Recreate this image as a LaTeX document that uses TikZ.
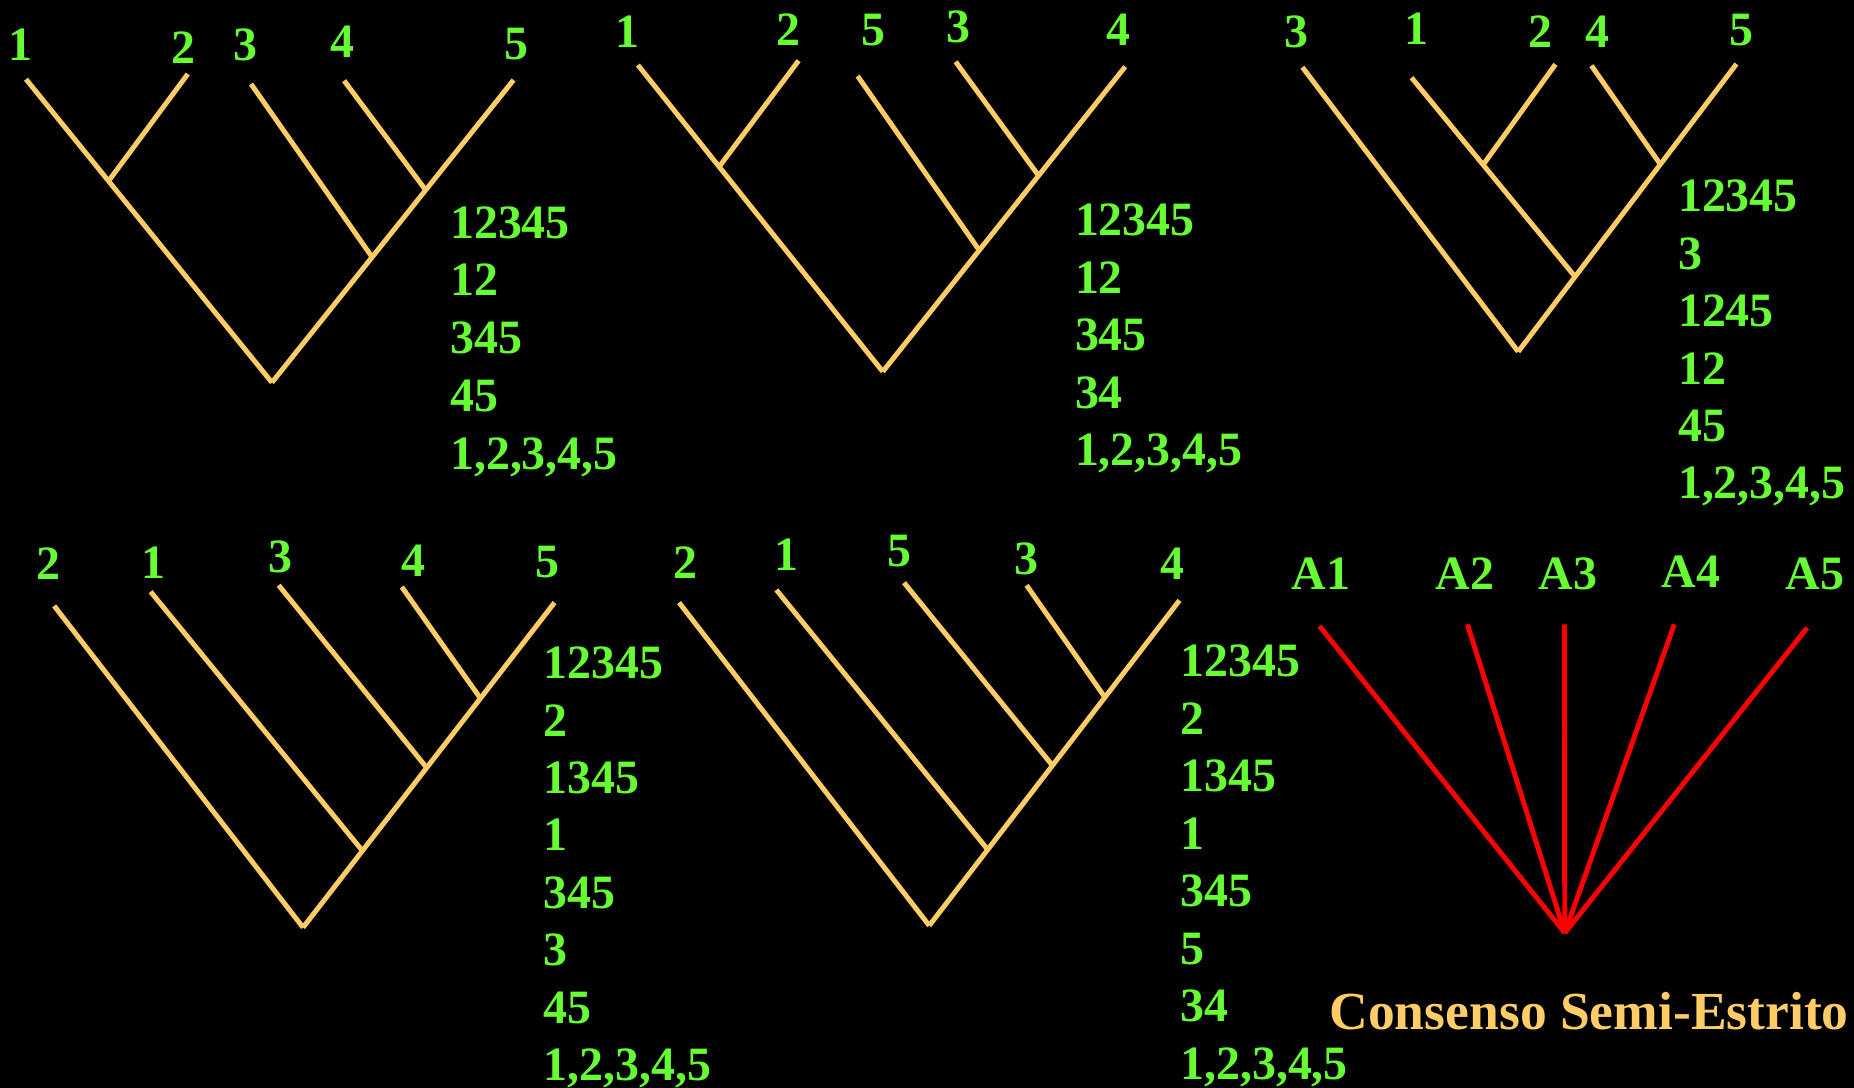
\documentclass[tikz,border=0pt]{standalone}
\usepackage{fontspec}
\setmainfont{Liberation Serif}
\definecolor{branch}{RGB}{255,204,102}
\definecolor{lab}{RGB}{102,255,51}
\definecolor{cons}{RGB}{255,0,0}
\tikzset{
  br/.style={draw=branch, line width=4.2pt},
  cs/.style={draw=cons, line width=4.2pt},
  tip/.style={text=lab, font=\fontsize{40.5}{41}\selectfont\bfseries, inner sep=0pt},
  lst/.style={tip, anchor=base west},
  ttl/.style={text=branch, font=\fontsize{45.3}{47}\selectfont\bfseries, inner sep=0pt}
}
\begin{document}
\begin{tikzpicture}[x=1pt,y=-1pt]
\path[use as bounding box, fill=black] (0,0) rectangle (1568,920);

% ---------- Tree 1 ----------
\node[tip] (t1a) at (17,38) {1};
\node[tip] (t1b) at (155,40) {2};
\node[tip] (t1c) at (208,38) {3};
\node[tip] (t1d) at (290,35) {4};
\node[tip] (t1e) at (437,37) {5};
\coordinate (a1) at (22,67);
\coordinate (a2) at (158.8,62.6);
\coordinate (a3) at (212.3,71);
\coordinate (a4) at (291,68.2);
\coordinate (a5) at (434.3,67.7);
\coordinate (ar) at (230,323.5);
\coordinate (a12) at (91.9,153);
\coordinate (a345) at (314.6,217.3);
\coordinate (a45) at (359.9,160.6);
\draw[br] (a1) -- (ar);
\draw[br] (ar) -- (a5);
\draw[br] (a2) -- (a12);
\draw[br] (a3) -- (a345);
\draw[br] (a4) -- (a45);
\foreach \t [count=\i] in {12345,12,345,45,{1,2,3,4,5}}
  \node[lst] (l1\i) at (380.5,{201.5+(\i-1)*48.8}) {\t};

% ---------- Tree 2 ----------
\node[tip] (t2a) at (530.6,27) {1};
\node[tip] (t2b) at (667,25.4) {2};
\node[tip] (t2c) at (738.8,25.4) {5};
\node[tip] (t2d) at (811,23) {3};
\node[tip] (t2e) at (946,25) {4};
\coordinate (b1) at (539.5,55);
\coordinate (b2) at (675.4,51.3);
\coordinate (b5) at (725.3,64.3);
\coordinate (b3) at (808.2,52.2);
\coordinate (b4) at (951.6,56.4);
\coordinate (br) at (746.6,314.3);
\coordinate (b12) at (608.2,141);
\coordinate (b5n) at (828.2,211.7);
\coordinate (b34) at (878.4,148.6);
\draw[br] (b1) -- (br);
\draw[br] (br) -- (b4);
\draw[br] (b2) -- (b12);
\draw[br] (b5) -- (b5n);
\draw[br] (b3) -- (b34);
\foreach \t [count=\i] in {12345,12,345,34,{1,2,3,4,5}}
  \node[lst] (l2\i) at (909,{199.2+(\i-1)*48.65}) {\t};

% ---------- Tree 3 ----------
\node[tip] (t3a) at (1096.7,27) {3};
\node[tip] (t3b) at (1197.6,24) {1};
\node[tip] (t3c) at (1302.7,27) {2};
\node[tip] (t3d) at (1350.7,27) {4};
\node[tip] (t3e) at (1473,25.4) {5};
\coordinate (c3) at (1101.5,56.9);
\coordinate (c1) at (1193.8,65.7);
\coordinate (c2) at (1315.5,54.4);
\coordinate (c4) at (1345.9,55.5);
\coordinate (c5) at (1468.6,54.1);
\coordinate (cr) at (1284,297.4);
\coordinate (c1245) at (1332.1,234);
\coordinate (c12) at (1254.3,139.4);
\coordinate (c45) at (1404.2,139);
\draw[br] (c3) -- (cr);
\draw[br] (cr) -- (c5);
\draw[br] (c1) -- (c1245);
\draw[br] (c2) -- (c12);
\draw[br] (c4) -- (c45);
\foreach \t [count=\i] in {12345,3,1245,12,45,{1,2,3,4,5}}
  \node[lst] (l3\i) at (1419,{179+(\i-1)*48.6}) {\t};

% ---------- Tree 4 ----------
\node[tip] (t4a) at (40.8,477) {2};
\node[tip] (t4b) at (130,476) {1};
\node[tip] (t4c) at (236.8,471) {3};
\node[tip] (t4d) at (349.5,474) {4};
\node[tip] (t4e) at (462.9,475) {5};
\coordinate (d2) at (45.8,512.4);
\coordinate (d1) at (127.4,500.4);
\coordinate (d3) at (235.7,495);
\coordinate (d4) at (339.8,496.4);
\coordinate (d5) at (469,509.6);
\coordinate (dr) at (256.3,784.4);
\coordinate (d1n) at (306.5,719.5);
\coordinate (d3n) at (360.9,649.3);
\coordinate (d45) at (406.3,590.6);
\draw[br] (d2) -- (dr);
\draw[br] (dr) -- (d5);
\draw[br] (d1) -- (d1n);
\draw[br] (d3) -- (d3n);
\draw[br] (d4) -- (d45);
\foreach \t [count=\i] in {12345,2,1345,1,345,3,45,{1,2,3,4,5}}
  \node[lst] (l4\i) at (459.5,{573.9+(\i-1)*48.6}) {\t};

% ---------- Tree 5 ----------
\node[tip] (t5a) at (579.3,476) {2};
\node[tip] (t5b) at (665.5,469) {1};
\node[tip] (t5c) at (760.7,466) {5};
\node[tip] (t5d) at (868.2,473) {3};
\node[tip] (t5e) at (991.7,477) {4};
\coordinate (e2) at (574.3,509.6);
\coordinate (e1) at (656.6,498.9);
\coordinate (e5) at (764.6,492.8);
\coordinate (e3) at (868.2,495);
\coordinate (e4) at (997.5,507.8);
\coordinate (er) at (785.9,782.8);
\coordinate (e1n) at (835.4,718.6);
\coordinate (e5n) at (890.1,647.4);
\coordinate (e34) at (934.5,589.8);
\draw[br] (e2) -- (er);
\draw[br] (er) -- (e4);
\draw[br] (e1) -- (e1n);
\draw[br] (e5) -- (e5n);
\draw[br] (e3) -- (e34);
\foreach \t [count=\i] in {12345,2,1345,1,345,5,34,{1,2,3,4,5}}
  \node[lst] (l5\i) at (998,{572.5+(\i-1)*48.6}) {\t};

% ---------- Consensus ----------
\node[tip] (fA1) at (1117,485) {A1};
\node[tip] (fA2) at (1239,485) {A2};
\node[tip] (fA3) at (1326,485) {A3};
\node[tip] (fA4) at (1430,483.5) {A4};
\node[tip] (fA5) at (1535,485.5) {A5};
\coordinate (f1) at (1116,529.5);
\coordinate (f2) at (1241,528);
\coordinate (f3) at (1323,528);
\coordinate (f4) at (1416,528);
\coordinate (f5) at (1528.3,531);
\coordinate (fr) at (1323.4,789);
\foreach \k in {1,...,5} \draw[cs] (f\k) -- (fr);
\node[ttl] (title) at (1344,855) {Consenso Semi-Estrito};
\end{tikzpicture}
\end{document}
